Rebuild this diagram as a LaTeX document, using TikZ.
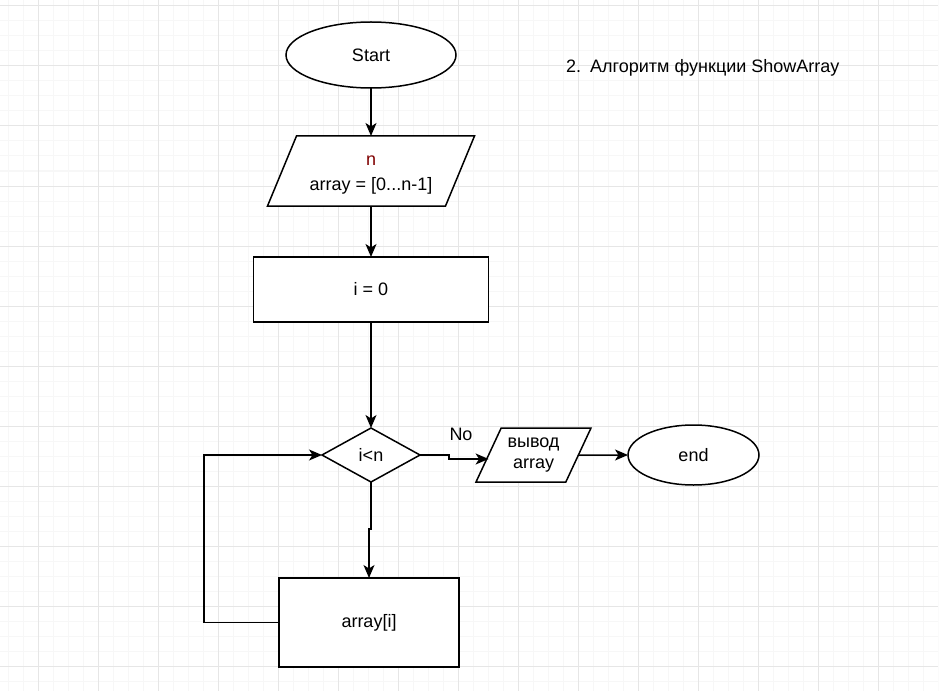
\documentclass[tikz,border=0pt]{standalone}
\usepackage{fontspec}
\setmainfont{Liberation Sans}
\usepackage{xcolor}
\usetikzlibrary{shapes.geometric,arrows.meta}

\definecolor{gridminor}{RGB}{247,247,247}
\definecolor{gridmajor}{RGB}{230,230,230}
\definecolor{varred}{RGB}{128,0,0}

\tikzset{
  block/.style={draw, line width=1.5pt, fill=white, inner sep=0pt, outer sep=0pt,
    font=\fontsize{18}{21.6}\selectfont, align=center},
  terminal/.style={block, ellipse},
  process/.style={block, rectangle},
  decision/.style={block, diamond},
  io/.style={block, trapezium, trapezium stretches body},
  flow/.style={line width=1.5pt, -{Stealth[length=13pt,width=11pt,inset=3.5pt]}},
  plain/.style={font=\fontsize{18}{21.6}\selectfont}
}

\begin{document}
\begin{tikzpicture}[x=1pt,y=-1pt]
    \useasboundingbox (0,0) rectangle (941,695);
    % Draw grid
    \begin{scope}
      \clip (0,0) rectangle (938,691);
      \foreach \x in {8,23,...,938} \draw[gridminor, line width=1pt] (\x,0) -- (\x,691);
      \foreach \y in {6,21,...,691} \draw[gridminor, line width=1pt] (0,\y) -- (938,\y);
      \foreach \x in {38,98,...,938} \draw[gridmajor, line width=1pt] (\x,0) -- (\x,691);
      \foreach \y in {6,66,...,691} \draw[gridmajor, line width=1pt] (0,\y) -- (938,\y);
    \end{scope}

    % Draw blocks
    \node[terminal, minimum width=170pt, minimum height=66pt] (start) at (371,55) {Start};
    \node[io, trapezium left angle=67.5, trapezium right angle=112.5,
          minimum width=207pt] (input) at (371,171)
          {\parbox[c][70pt][c]{140pt}{\centering\vspace{8pt}\textcolor{varred}{n}\\[4pt]array = [0...n-1]}};
    \node[process, minimum width=235pt, minimum height=65pt] (init) at (371,289.5) {i = 0};
    \node[decision, minimum width=98pt, minimum height=54pt] (check) at (371,455) {i<n};
    \node[io, trapezium left angle=65, trapezium right angle=115,
          minimum width=115pt] (output) at (533.5,455)
          {\parbox[c][54pt][c]{60pt}{\centering вывод\\array}};
    \node[terminal, minimum width=131pt, minimum height=60pt] (end) at (693.5,455) {end};
    \node[process, minimum width=180pt, minimum height=89pt] (body) at (369,622.5) {array[i]};

    % Labels
    \node[plain, anchor=base west, inner sep=0pt] (title) at (566,73)
          {2.\hspace{9pt}Алгоритм функции ShowArray};
    \node[plain, anchor=base, inner sep=0pt] (no) at (461,440) {No};

    % Connectors
    \coordinate (jog) at (449,459);
    \coordinate (loop) at (204,455);
    \draw[flow] (start) -- (input);
    \draw[flow] (input) -- (init);
    \draw[flow] (init) -- (check);
    \draw[flow] (check.east) -| (jog) -- (jog -| output.west);
    \draw[flow] (output.east) -- (end.west);
    \draw[flow] (check.south) -- ++(0,47) -| (body.north);
    \draw[flow] (body.west) -| (loop) -- (check.west);
\end{tikzpicture}
\end{document}
